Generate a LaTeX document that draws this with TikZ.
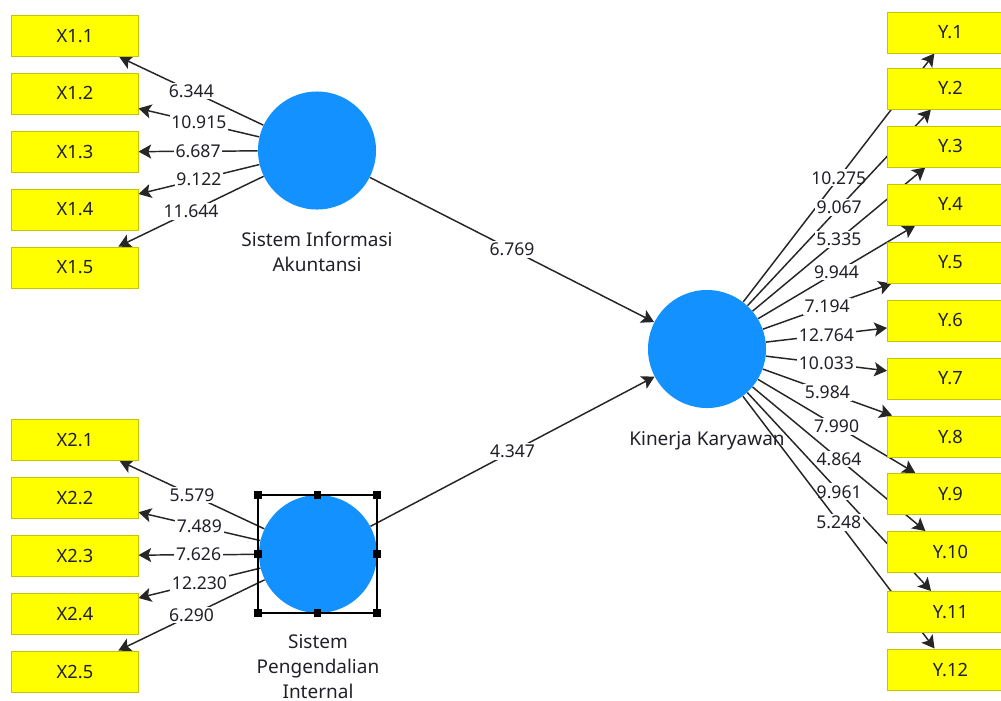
\documentclass[tikz,border=0pt]{standalone}
\usepackage{fontspec}
\setmainfont{Noto Sans}
\usetikzlibrary{arrows.meta}
\definecolor{latentblue}{RGB}{18,145,255}
\definecolor{itemfill}{RGB}{255,255,0}
\definecolor{itemedge}{RGB}{196,196,0}
\definecolor{inktext}{RGB}{32,32,40}
\pgfdeclarelayer{links}
\pgfsetlayers{links,main}
\begin{document}
\begin{tikzpicture}[x=0.025cm,y=-0.025cm,
  indicator/.style={draw=itemedge, line width=0.7pt, fill=itemfill,
    minimum width=3.15cm, minimum height=1.025cm, inner sep=0pt,
    font=\fontsize{13}{15}\selectfont, text=inktext},
  construct/.style={circle, fill=latentblue, minimum size=2.95cm, inner sep=0pt},
  caption/.style={align=center, anchor=north, inner sep=0pt,
    font=\fontsize{13.5}{17.8}\selectfont, text=inktext},
  link/.style={draw=black!85, line width=1.05pt,
    -{Stealth[length=9pt,width=10pt,inset=2pt]}},
  val/.style={fill=white, inner sep=1.3pt,
    font=\fontsize{12.5}{14}\selectfont, text=inktext},
  handle/.style={fill=black, minimum size=5.2pt, inner sep=0pt}]

\useasboundingbox (0,0) rectangle (1001,700);

% latent variables
\node[construct] (sia) at (317,150.5) {};
\node[construct] (spi) at (318,554) {};
\node[construct] (kk)  at (707,349) {};

\node[caption] (sianame) at (317,232) {Sistem Informasi\\Akuntansi};
\node[caption] (spiname) at (318,634) {Sistem\\Pengendalian\\Internal};
\node[caption] (kkname)  at (707,431) {Kinerja Karyawan};

% indicators
\foreach \n/\y in {1/36,2/93.5,3/152,4/209.5,5/267.5}
  \node[indicator] (xa\n) at (75,\y) {X1.\n};
\foreach \n/\y in {1/440,2/497.5,3/555.5,4/613.5,5/671.5}
  \node[indicator] (xb\n) at (75,\y) {X2.\n};
\foreach \n/\y in {1/32.5,2/88.5,3/146.5,4/204.5,5/262.5,6/320.5,
                   7/378.5,8/436.5,9/494,10/552,11/612,12/669.5}
  \node[indicator] (y\n) at (950.5,\y) {Y.\n};

% selection frame with handles
\draw[line width=1.1pt] (258,495) rectangle (377,613);
\foreach \p [count=\i] in {(258,495),(317.5,495),(377,495),(258,554),
                           (377,554),(258,613),(317.5,613),(377,613)}
  \node[handle] (h\i) at \p {};

% loadings and paths
\begin{pgfonlayer}{links}
\foreach \n/\v in {1/6.344,2/10.915,3/6.687,4/9.122,5/11.644}
  \draw[link] (sia) -- node[val] {\v} (xa\n);
\foreach \n/\v in {1/5.579,2/7.489,3/7.626,4/12.230,5/6.290}
  \draw[link] (spi) -- node[val] {\v} (xb\n);
\foreach \n/\v in {1/10.275,2/9.067,3/5.335,4/9.944,5/7.194,6/12.764,
                   7/10.033,8/5.984,9/7.990,10/4.864,11/9.961,12/5.248}
  \draw[link] (kk) -- node[val] {\v} (y\n);
\draw[link] (sia) -- node[val] {6.769} (kk);
\draw[link] (spi) -- node[val] {4.347} (kk);
\end{pgfonlayer}
\end{tikzpicture}
\end{document}
